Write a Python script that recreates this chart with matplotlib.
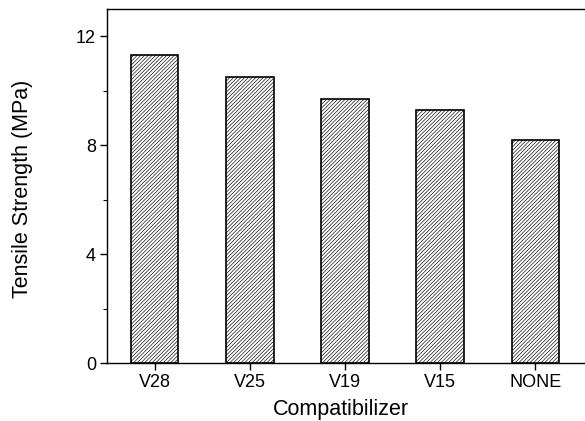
import matplotlib
matplotlib.use("Agg")
import matplotlib.pyplot as plt
from matplotlib.ticker import MultipleLocator

categories = ["V28", "V25", "V19", "V15", "NONE"]
strength = [11.3, 10.5, 9.7, 9.3, 8.2]
y_ticks = [0, 4, 8, 12]

plt.rcParams['font.family'] = ['Liberation Sans', 'DejaVu Sans']
plt.rcParams['hatch.linewidth'] = 0.45
plt.rcParams['hatch.color'] = '#777777'

fig = plt.figure(figsize=(5.85, 4.21), dpi=100)
ax = fig.add_axes([107/585, 58/421, 1 - 107/585, (363 - 9)/421])

x = list(range(len(categories)))
ax.bar(x, strength, width=0.5, facecolor='white', edgecolor='black',
       linewidth=1.2, hatch='/' * 9)

ax.set_xlim(-0.5, 4.52)
ax.set_ylim(0, 13)
ax.set_xticks(x)
ax.set_xticklabels(categories)
ax.set_yticks(y_ticks)
ax.yaxis.set_minor_locator(MultipleLocator(2))

ax.spines['right'].set_visible(False)
for s in ['left', 'bottom', 'top']:
    ax.spines[s].set_linewidth(1.0)

ax.tick_params(axis='both', which='major', direction='out', length=5, width=1,
               labelsize=13, pad=3)
ax.tick_params(axis='y', which='minor', direction='out', length=3, width=0.8)
ax.tick_params(axis='x', which='minor', bottom=False)

ax.set_xlabel("Compatibilizer", fontsize=15.5)
ax.set_ylabel("Tensile Strength (MPa)", fontsize=15.5)
ax.xaxis.set_label_coords(0.49, -0.102)
ax.xaxis.label.set_va('top')
ax.yaxis.set_label_coords(-0.155, 0.493)

fig.savefig("out.png", dpi=100)
